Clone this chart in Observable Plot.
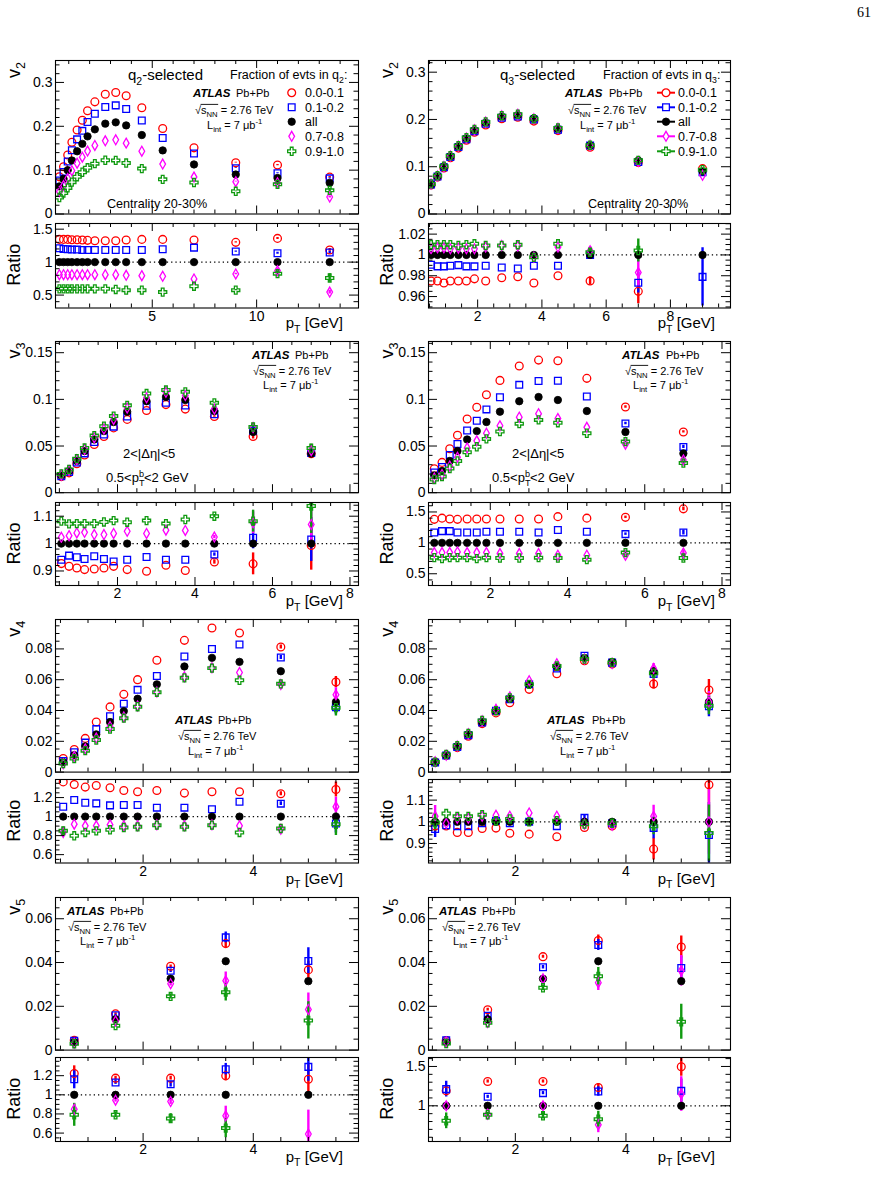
<!DOCTYPE html>
<html>
<head>
<meta charset="utf-8">
<script src="https://cdn.jsdelivr.net/npm/d3@7"></script>
<script src="https://cdn.jsdelivr.net/npm/@observablehq/plot@0.6"></script>
<style>
  body { margin: 0; background: #fff; }
  #page { position: relative; width: 879px; height: 1179px; overflow: hidden; background: #fff; }
  #page svg { position: absolute; }
</style>
</head>
<body>
<div id="page"></div>
<script>
// ---------------- data ----------------
// transverse-momentum bin centres (GeV)
const pt = [0.55, 0.75, 0.95, 1.15, 1.4, 1.65, 1.9, 2.25, 2.75, 3.25, 3.75, 4.5, 5.5, 7, 9, 11, 13.5];
const pt5 = [0.75, 1.5, 2.5, 3.5, 5];

// inclusive ("all") flow harmonics, centrality 20-30%
const v2All = [0.063, 0.08, 0.1, 0.122, 0.143, 0.16, 0.177, 0.193, 0.206, 0.209, 0.202, 0.18, 0.145, 0.113, 0.09, 0.082, 0.071];
const v3All = [0.0186, 0.0232, 0.034, 0.0446, 0.057, 0.066, 0.0757, 0.0868, 0.098, 0.1025, 0.0993, 0.0875, 0.065, 0.042];
const v4All = [0.0065, 0.011, 0.0167, 0.0245, 0.0325, 0.0396, 0.0476, 0.057, 0.0686, 0.0742, 0.0716, 0.0655, 0.0455];
const v5All = [0.0037, 0.0141, 0.0326, 0.0406, 0.0315];

// event-shape classes (fraction of events in q_n)
const classes = ["0.0-0.1", "0.1-0.2", "all", "0.7-0.8", "0.9-1.0"];

// ratios to "all": q2-selected, v2
const q2v2_r01 = [1.345, 1.345, 1.345, 1.34, 1.34, 1.335, 1.33, 1.325, 1.325, 1.325, 1.335, 1.345, 1.345, 1.335, 1.30, 1.36, 1.185];
const q2v2_r12 = [1.21, 1.2, 1.195, 1.19, 1.19, 1.185, 1.185, 1.185, 1.185, 1.185, 1.185, 1.185, 1.195, 1.22, 1.16, 1.135, 1.145];
const q2v2_r78 = [0.81, 0.81, 0.81, 0.81, 0.81, 0.81, 0.81, 0.81, 0.81, 0.81, 0.80, 0.795, 0.785, 0.745, 0.82, 0.87, 0.545];
const q2v2_r910 = [0.595, 0.595, 0.595, 0.595, 0.595, 0.595, 0.595, 0.595, 0.595, 0.585, 0.575, 0.575, 0.545, 0.635, 0.575, 0.825, 0.76];
const q2v2_e01 = [0, 0, 0, 0, 0, 0, 0, 0, 0, 0, 0, 0, 0, 0, 0.01, 0.015, 0.02];
const q2v2_e12 = [0, 0, 0, 0, 0, 0, 0, 0, 0, 0, 0, 0, 0, 0, 0.01, 0.015, 0.02];
const q2v2_e78 = [0, 0, 0, 0, 0, 0, 0, 0, 0, 0, 0, 0, 0, 0, 0.01, 0.04, 0.03];
const q2v2_e910 = [0, 0, 0, 0, 0, 0, 0, 0, 0, 0, 0, 0, 0, 0, 0.01, 0.04, 0.065];

// ratios to "all": q3-selected, v2
const q3v2_r01 = [0.975, 0.975, 0.973, 0.975, 0.975, 0.975, 0.977, 0.975, 0.978, 0.979, 0.973, 0.98, 0.975, 0.965, 1.066];
const q3v2_r12 = [0.9906, 0.989, 0.989, 0.9896, 0.9902, 0.989, 0.989, 0.9896, 0.988, 0.987, 0.9896, 0.9896, 1.0, 0.9733, 0.9789];
const q3v2_r78 = [1.0059, 1.0068, 1.0068, 1.0059, 1.0065, 1.0059, 1.0059, 1.0075, 1.009, 1.0085, 0.9977, 1.0075, 1.004, 0.983, 0.91];
const q3v2_r910 = [1.0098, 1.0098, 1.0098, 1.0098, 1.0091, 1.0098, 1.0107, 1.0091, 1.0091, 1.0098, 0.9977, 1.0107, 1.0026, 1.0042, 1.04];
const q3v2_e01 = [0, 0, 0, 0, 0, 0, 0, 0, 0, 0, 0, 0, 0.004, 0.012, 0];
const q3v2_e12 = [0, 0, 0, 0, 0, 0, 0, 0, 0, 0, 0, 0, 0.003, 0.01, 0.028];
const q3v2_e78 = [0, 0, 0, 0, 0, 0, 0, 0, 0, 0, 0, 0, 0.004, 0.014, 0];
const q3v2_e910 = [0, 0, 0, 0, 0, 0, 0, 0, 0, 0, 0, 0, 0.004, 0.011, 0];

// ratios to "all": q2-selected, v3
const q2v3_r01 = [0.927, 0.917, 0.911, 0.905, 0.907, 0.911, 0.917, 0.905, 0.899, 0.921, 0.902, 0.933, 0.926, 0.993];
const q2v3_r12 = [0.941, 0.956, 0.95, 0.944, 0.954, 0.944, 0.935, 0.941, 0.951, 0.941, 0.941, 0.96, 1.021, 1.015];
const q2v3_r78 = [1.023, 1.029, 1.039, 1.041, 1.033, 1.033, 1.037, 1.045, 1.037, 1.049, 1.048, 1.024, 1.076, 1.07];
const q2v3_r910 = [1.082, 1.072, 1.073, 1.073, 1.073, 1.079, 1.084, 1.078, 1.084, 1.073, 1.088, 1.10, 1.082, 1.137];
const q2v3_e01 = [0, 0, 0, 0, 0, 0, 0, 0, 0, 0, 0, 0.008, 0.04, 0.09];
const q2v3_e12 = [0, 0, 0, 0, 0, 0, 0, 0, 0, 0, 0, 0.006, 0.04, 0.08];
const q2v3_e78 = [0, 0, 0, 0, 0, 0, 0, 0, 0, 0, 0, 0.006, 0.04, 0.07];
const q2v3_e910 = [0, 0, 0, 0, 0, 0, 0, 0, 0, 0, 0, 0.006, 0.04, 0.1];

// ratios to "all": q3-selected, v3
const q3v3_r01 = [1.38, 1.40, 1.386, 1.38, 1.386, 1.386, 1.386, 1.386, 1.386, 1.386, 1.424, 1.40, 1.413, 1.55];
const q3v3_r12 = [1.168, 1.19, 1.19, 1.168, 1.168, 1.168, 1.179, 1.179, 1.179, 1.168, 1.207, 1.179, 1.141, 1.168];
const q3v3_r78 = [0.842, 0.842, 0.842, 0.853, 0.842, 0.842, 0.842, 0.826, 0.826, 0.826, 0.80, 0.80, 0.80, 0.837];
const q3v3_r910 = [0.761, 0.745, 0.761, 0.761, 0.761, 0.745, 0.761, 0.755, 0.755, 0.761, 0.755, 0.728, 0.842, 0.755];
const q3v3_e01 = [0, 0, 0, 0, 0, 0, 0, 0, 0, 0, 0, 0, 0.02, 0.03];
const q3v3_e12 = [0, 0, 0, 0, 0, 0, 0, 0, 0, 0, 0, 0, 0.02, 0.04];
const q3v3_e78 = [0, 0, 0, 0, 0, 0, 0, 0, 0, 0, 0, 0, 0.02, 0.05];
const q3v3_e910 = [0, 0, 0, 0, 0, 0, 0, 0, 0, 0, 0, 0, 0.02, 0.05];

// ratios to "all": q2-selected, v4
const q2v4_r01 = [1.365, 1.337, 1.31, 1.327, 1.303, 1.275, 1.261, 1.275, 1.247, 1.261, 1.261, 1.24, 1.285];
const q2v4_r12 = [1.104, 1.174, 1.146, 1.139, 1.118, 1.122, 1.122, 1.094, 1.094, 1.077, 1.157, 1.136, 0.927];
const q2v4_r78 = [0.833, 0.92, 0.903, 0.903, 0.913, 0.903, 0.903, 0.913, 0.903, 0.913, 0.903, 0.868, 1.104];
const q2v4_r910 = [0.85, 0.798, 0.833, 0.85, 0.861, 0.885, 0.892, 0.91, 0.892, 0.91, 0.833, 0.875, 0.92];
const q2v4_e01 = [0, 0, 0, 0, 0, 0, 0, 0, 0, 0, 0, 0.02, 0.08];
const q2v4_e12 = [0, 0, 0, 0, 0, 0, 0, 0, 0, 0, 0, 0.02, 0.1];
const q2v4_e78 = [0.04, 0, 0, 0, 0, 0, 0, 0, 0, 0, 0, 0.02, 0.1];
const q2v4_e910 = [0.04, 0, 0, 0, 0, 0, 0, 0, 0, 0, 0, 0.02, 0.12];

// ratios to "all": q3-selected, v4
const q3v4_r01 = [0.981, 0.981, 0.951, 0.951, 0.969, 0.971, 0.947, 0.943, 0.931, 0.974, 0.981, 0.874, 1.171];
const q3v4_r12 = [0.967, 0.984, 0.98, 0.98, 0.993, 1.005, 0.993, 1.0, 0.98, 1.018, 0.993, 0.972, 0.939];
const q3v4_r78 = [1.025, 0.993, 1.016, 1.016, 1.026, 1.03, 1.026, 1.041, 1.026, 0.989, 0.984, 1.026, 1.0];
const q3v4_r910 = [0.997, 1.038, 1.025, 1.025, 1.033, 1.005, 1.013, 1.0, 1.005, 0.989, 0.993, 0.98, 0.948];
const q3v4_e01 = [0, 0, 0, 0, 0, 0, 0, 0, 0, 0, 0.01, 0.05, 0.15];
const q3v4_e12 = [0.04, 0, 0, 0, 0, 0, 0, 0, 0, 0.012, 0.01, 0.05, 0.15];
const q3v4_e78 = [0.05, 0, 0, 0, 0, 0, 0, 0, 0, 0, 0.02, 0.05, 0.15];
const q3v4_e910 = [0.04, 0, 0, 0, 0, 0, 0, 0, 0, 0, 0.01, 0.04, 0.13];

// ratios to "all": q2-selected, v5
const q2v5_r01 = [1.223, 1.174, 1.174, 1.198, 1.163];
const q2v5_r12 = [1.163, 1.129, 1.111, 1.268, 1.292];
const q2v5_r78 = [0.85, 0.944, 0.93, 0.781, 0.59];
const q2v5_r910 = [0.791, 0.791, 0.753, 0.652, 0.43];
const q2v5_e01 = [0.08, 0.02, 0.02, 0.05, 0.15];
const q2v5_e12 = [0.1, 0.02, 0.03, 0.06, 0.15];
const q2v5_e78 = [0.05, 0.02, 0.03, 0.1, 0.25];
const q2v5_e910 = [0.12, 0.03, 0.05, 0.1, 0.08];
// v5 absolute uncertainties (q2-selected)
const q2v5_m01 = [0.0003, 0.0005, 0.0006, 0.002, 0.004];
const q2v5_m12 = [0.0004, 0.0005, 0.0008, 0.0025, 0.006];
const q2v5_m78 = [0.0002, 0.0005, 0.001, 0.004, 0.0075];
const q2v5_m910 = [0.0005, 0.0007, 0.0012, 0.004, 0.0085];

// ratios to "all": q3-selected, v5
const q3v5_r01 = [1.19, 1.309, 1.309, 1.233, 1.496];
const q3v5_r12 = [1.212, 1.114, 1.161, 1.182, 1.19];
const q3v5_r78 = [1.0, 0.894, 1.0, 0.758, 1.15];
const q3v5_r910 = [0.809, 0.886, 0.873, 0.83, 0.41];
const q3v5_e01 = [0.05, 0.02, 0.02, 0.05, 0.12];
const q3v5_e12 = [0.1, 0.02, 0.02, 0.06, 0.15];
const q3v5_e78 = [0.05, 0.02, 0.03, 0.1, 0.22];
const q3v5_e910 = [0.1, 0.03, 0.04, 0.1, 0.08];
// v5 absolute uncertainties (q3-selected)
const q3v5_m01 = [0.0003, 0.0006, 0.0007, 0.0025, 0.005];
const q3v5_m12 = [0.0004, 0.0005, 0.0008, 0.0025, 0.005];
const q3v5_m78 = [0.0002, 0.0005, 0.001, 0.0035, 0.007];
const q3v5_m910 = [0.0005, 0.0007, 0.0012, 0.004, 0.008];

// ---------------- styling ----------------
const FONT = '"Liberation Sans", Arial, Helvetica, sans-serif';
const STYLES = [
  {color: "#ff0000", symbol: "circle", r: 3.9, filled: false},
  {color: "#0000ff", symbol: "square", r: 3.8, filled: false},
  {color: "#000000", symbol: "circle", r: 3.7, filled: true},
  {color: "#ff00ff", symbol: "diamond", r: 3.0, filled: false},
  {color: "#109a10", symbol: "cross", r: 3.4, filled: false}
];

const page = document.getElementById("page");
const fmt = d => String(+d.toFixed(4));

function steps(lo, hi, step) {
  const out = [];
  const n0 = Math.ceil(lo / step - 1e-6), n1 = Math.floor(hi / step + 1e-6);
  for (let n = n0; n <= n1; n++) out.push(+(n * step).toFixed(6));
  return out;
}

// builds the five series (0.0-0.1, 0.1-0.2, all, 0.7-0.8, 0.9-1.0)
function buildSeries(xs, all, ratios, errs, isRatio, mainErrs) {
  return STYLES.map((st, k) => {
    const j = k < 2 ? k : k - 1;
    const r = k === 2 ? null : ratios[j];
    const e = k === 2 ? null : errs[j];
    const m = k === 2 || !mainErrs ? null : mainErrs[j];
    const rows = all.map((a, i) => {
      const rv = r ? r[i] : 1, ev = e ? e[i] : 0;
      if (isRatio) return {x: xs[i], y: rv, e: ev};
      return {x: xs[i], y: a * rv, e: m ? m[i] : a * ev};
    });
    return {...st, label: classes[k], rows};
  });
}

function panel(p) {
  const mL = 52, mR = 8, mT = 6, mB = p.xLabels ? 26 : 6;
  const fw = p.x1 - p.x0, fh = p.y1 - p.y0;
  const [xa, xb] = p.xDomain, [ya, yb] = p.yDomain;
  const kx = (xb - xa) / fw, ky = (yb - ya) / fh;
  const xMaj = steps(xa, xb, p.xStep);
  const xMin = steps(xa, xb, p.xStep / p.xSub).filter(v => !xMaj.some(m => Math.abs(m - v) < 1e-9));
  const yMaj = steps(ya, yb, p.yStep);
  const yMin = steps(ya, yb, p.yStep / p.ySub).filter(v => !yMaj.some(m => Math.abs(m - v) < 1e-9));

  const marks = [];
  if (p.ratio) marks.push(Plot.ruleY([1], {y: d => d, strokeDasharray: "1.3,3", strokeWidth: 1.2}));
  for (const s of p.series) {
    const withErr = s.rows.filter(d => d.e > 0);
    if (withErr.length) marks.push(Plot.ruleX(withErr, {x: "x", y1: d => d.y - d.e, y2: d => d.y + d.e, stroke: s.color, strokeWidth: 2.4, clip: true}));
  }
  for (const s of p.series) {
    marks.push(Plot.dot(s.rows, {x: "x", y: "y", symbol: s.symbol, r: s.r, stroke: s.color,
      fill: s.filled ? s.color : "none", strokeWidth: s.filled ? 0.8 : 1.3, clip: true}));
  }
  const xt = (vals, len) => [
    Plot.ruleX(vals, {x: d => d, y1: () => ya, y2: () => ya + len * ky, strokeWidth: 1}),
    Plot.ruleX(vals, {x: d => d, y1: () => yb, y2: () => yb - len * ky, strokeWidth: 1})
  ];
  const yt = (vals, len) => [
    Plot.ruleY(vals, {y: d => d, x1: () => xa, x2: () => xa + len * kx, strokeWidth: 1}),
    Plot.ruleY(vals, {y: d => d, x1: () => xb, x2: () => xb - len * kx, strokeWidth: 1})
  ];
  marks.push(...xt(xMaj, 8), ...xt(xMin, 4), ...yt(yMaj, 9), ...yt(yMin, 4.5));
  marks.push(Plot.frame({stroke: "#000", strokeWidth: 1.1}));
  marks.push(Plot.axisY({ticks: yMaj, tickSize: 0, tickPadding: 3, tickFormat: fmt, fontSize: 14, label: null}));
  if (p.xLabels) marks.push(Plot.axisX({ticks: xMaj, tickSize: 0, tickPadding: 3, tickFormat: fmt, fontSize: 14, label: null}));

  const svg = Plot.plot({
    width: fw + mL + mR, height: fh + mT + mB,
    marginLeft: mL, marginRight: mR, marginTop: mT, marginBottom: mB,
    x: {type: "linear", domain: p.xDomain, axis: null, label: null},
    y: {type: "linear", domain: p.yDomain, axis: null, label: null},
    style: {fontFamily: FONT, fontSize: "14px", color: "#000", background: "none", overflow: "visible"},
    marks
  });
  svg.style.position = "absolute";
  svg.style.left = (p.x0 - mL) + "px";
  svg.style.top = (p.y0 - mT) + "px";
  page.appendChild(svg);
}

// ---------------- layout ----------------
const L = {x0: 55, x1: 358}, R = {x0: 428, x1: 730};
const rows = [
  {main: [60, 213.5], ratio: [222.5, 307]},
  {main: [340.5, 491.7], ratio: [502, 585]},
  {main: [618.7, 771.3], ratio: [779, 862.5]},
  {main: [896.7, 1049.3], ratio: [1056.7, 1140.7]}
];

const panels = [
  // v2
  {col: L, row: 0, xs: pt, all: v2All, xDomain: [0.365, 14.88], xStep: 5, xSub: 5,
   mainY: [0, 0.35], mainStep: 0.1, mainSub: 5, ratioY: [0.304, 1.586], ratioStep: 0.5, ratioSub: 5,
   r: [q2v2_r01, q2v2_r12, q2v2_r78, q2v2_r910], e: [q2v2_e01, q2v2_e12, q2v2_e78, q2v2_e910]},
  {col: R, row: 0, xs: pt, all: v2All.slice(0, 15), xDomain: [0.47, 9.87], xStep: 2, xSub: 4,
   mainY: [0, 0.3247], mainStep: 0.1, mainSub: 5, ratioY: [0.949, 1.0302], ratioStep: 0.02, ratioSub: 4,
   r: [q3v2_r01, q3v2_r12, q3v2_r78, q3v2_r910], e: [q3v2_e01, q3v2_e12, q3v2_e78, q3v2_e910]},
  // v3
  {col: L, row: 1, xs: pt, all: v3All, xDomain: [0.4, 8.22], xStep: 2, xSub: 4,
   mainY: [0, 0.162], mainStep: 0.05, mainSub: 5, ratioY: [0.847, 1.15], ratioStep: 0.1, ratioSub: 5,
   r: [q2v3_r01, q2v3_r12, q2v3_r78, q2v3_r910], e: [q2v3_e01, q2v3_e12, q2v3_e78, q2v3_e910]},
  {col: R, row: 1, xs: pt, all: v3All, xDomain: [0.4, 8.22], xStep: 2, xSub: 4,
   mainY: [0, 0.162], mainStep: 0.05, mainSub: 5, ratioY: [0.31, 1.653], ratioStep: 0.5, ratioSub: 5,
   r: [q3v3_r01, q3v3_r12, q3v3_r78, q3v3_r910], e: [q3v3_e01, q3v3_e12, q3v3_e78, q3v3_e910]},
  // v4
  {col: L, row: 2, xs: pt, all: v4All, xDomain: [0.41, 5.91], xStep: 2, xSub: 4,
   mainY: [0, 0.0991], mainStep: 0.02, mainSub: 4, ratioY: [0.512, 1.39], ratioStep: 0.2, ratioSub: 4,
   r: [q2v4_r01, q2v4_r12, q2v4_r78, q2v4_r910], e: [q2v4_e01, q2v4_e12, q2v4_e78, q2v4_e910]},
  {col: R, row: 2, xs: pt, all: v4All, xDomain: [0.43, 5.89], xStep: 2, xSub: 4,
   mainY: [0, 0.0991], mainStep: 0.02, mainSub: 4, ratioY: [0.81, 1.195], ratioStep: 0.1, ratioSub: 5,
   r: [q3v4_r01, q3v4_r12, q3v4_r78, q3v4_r910], e: [q3v4_e01, q3v4_e12, q3v4_e78, q3v4_e910]},
  // v5
  {col: L, row: 3, xs: pt5, all: v5All, xDomain: [0.41, 5.91], xStep: 2, xSub: 4,
   mainY: [0, 0.0697], mainStep: 0.02, mainSub: 4, ratioY: [0.512, 1.39], ratioStep: 0.2, ratioSub: 4,
   r: [q2v5_r01, q2v5_r12, q2v5_r78, q2v5_r910], e: [q2v5_e01, q2v5_e12, q2v5_e78, q2v5_e910],
   m: [q2v5_m01, q2v5_m12, q2v5_m78, q2v5_m910]},
  {col: R, row: 3, xs: pt5, all: v5All, xDomain: [0.43, 5.89], xStep: 2, xSub: 4,
   mainY: [0, 0.0697], mainStep: 0.02, mainSub: 4, ratioY: [0.546, 1.614], ratioStep: 0.5, ratioSub: 5,
   r: [q3v5_r01, q3v5_r12, q3v5_r78, q3v5_r910], e: [q3v5_e01, q3v5_e12, q3v5_e78, q3v5_e910],
   m: [q3v5_m01, q3v5_m12, q3v5_m78, q3v5_m910]}
];

for (const p of panels) {
  const g = rows[p.row];
  panel({x0: p.col.x0, x1: p.col.x1, y0: g.main[0], y1: g.main[1], xDomain: p.xDomain, xStep: p.xStep, xSub: p.xSub,
    yDomain: p.mainY, yStep: p.mainStep, ySub: p.mainSub, xLabels: false, ratio: false,
    series: buildSeries(p.xs, p.all, p.r, p.e, false, p.m)});
  panel({x0: p.col.x0, x1: p.col.x1, y0: g.ratio[0], y1: g.ratio[1], xDomain: p.xDomain, xStep: p.xStep, xSub: p.xSub,
    yDomain: p.ratioY, yStep: p.ratioStep, ySub: p.ratioSub, xLabels: true, ratio: true,
    series: buildSeries(p.xs, p.all, p.r, p.e, true)});
}

// ---------------- annotations ----------------
const ov = d3.select(page).append("svg")
  .attr("width", 879).attr("height", 1179)
  .style("left", "0px").style("top", "0px")
  .attr("font-family", FONT).attr("fill", "#000");

function rich(x, y, parts, size, opts = {}) {
  const t = ov.append("text").attr("x", x).attr("y", y).attr("font-size", size)
    .attr("text-anchor", opts.anchor || "start");
  if (opts.rotate) t.attr("transform", `rotate(-90,${x},${y})`);
  if (opts.family) t.attr("font-family", opts.family);
  let cur = 0;
  for (const part of parts) {
    const seg = typeof part === "string" ? {t: part} : part;
    const off = seg.sub ? 0.3 * size : seg.sup ? -0.42 * size : 0;
    const ts = t.append("tspan").text(seg.t).attr("dy", off - cur);
    cur = off;
    if (seg.dx) ts.attr("dx", seg.dx);
    if (seg.sub || seg.sup) ts.attr("font-size", size * 0.7);
    if (seg.b) ts.attr("font-weight", "bold");
    if (seg.i) ts.attr("font-style", "italic");
  }
  return t;
}

function atlasBlock(xA, xPb, xS, xL, y, dy1, dy2) {
  rich(xA, y, [{t: "ATLAS", b: true, i: true}], 11.5);
  rich(xPb, y, ["Pb+Pb"], 11);
  const t = rich(xS, y + dy1, ["\u221A", "s", {t: "NN", sub: true}, " = 2.76 TeV"], 11);
  const n = t.node();
  const xa = n.getStartPositionOfChar(1).x, xb = n.getEndPositionOfChar(3).x;
  ov.append("line").attr("x1", xa - 0.5).attr("x2", xb + 0.5)
    .attr("y1", y + dy1 - 9.6).attr("y2", y + dy1 - 9.6).attr("stroke", "#000").attr("stroke-width", 0.9);
  rich(xL, y + dy2, ["L", {t: "int", sub: true}, " = 7 \u03BCb", {t: "-1", sup: true}], 11);
}

// page number
rich(871, 17, ["61"], 14, {anchor: "end", family: '"Liberation Serif", "DejaVu Serif", serif'});

// axis titles
const yTitles = [["v", "2"], ["v", "3"], ["v", "4"], ["v", "5"]];
rows.forEach((g, i) => {
  for (const bx of [20, 393]) {
    rich(bx, g.main[0] + 2, [yTitles[i][0], {t: yTitles[i][1], sub: true}], 18, {rotate: true, anchor: "end"});
    rich(bx, (g.ratio[0] + g.ratio[1]) / 2, ["Ratio"], 18, {rotate: true, anchor: "middle"});
  }
  for (const ex of [L.x1 - 15, R.x1 - 15]) {
    rich(ex, g.ratio[1] + 21, ["p", {t: "T", sub: true}, " [GeV]"], 15, {anchor: "end"});
  }
});

// row 1 headers
rich(128, 80, ["q", {t: "2", sub: true}, "-selected"], 15);
rich(500, 80, ["q", {t: "3", sub: true}, "-selected"], 15);
rich(230, 79, ["Fraction of evts in q", {t: "2", sub: true}, ":"], 12.5);
rich(603, 79, ["Fraction of evts in q", {t: "3", sub: true}, ":"], 12.5);
rich(107, 208, ["Centrality 20-30%"], 12.6);
rich(588, 208, ["Centrality 20-30%"], 12.6);

// legends
const symType = {circle: d3.symbolCircle, square: d3.symbolSquare, diamond: d3.symbolDiamond, cross: d3.symbolCross};
const legY = [92.7, 107.3, 121.7, 136.3, 151.3];
STYLES.forEach((st, k) => {
  const y = legY[k];
  const path = d3.symbol().type(symType[st.symbol]).size(Math.PI * st.r * st.r)();
  // left: marker only
  ov.append("path").attr("d", path).attr("transform", `translate(291.7,${y})`)
    .attr("fill", st.filled ? st.color : "none").attr("stroke", st.color).attr("stroke-width", st.filled ? 0.8 : 1.3);
  rich(305, y + 4.5, [classes[k]], 12.5);
  // right: marker with line
  ov.append("line").attr("x1", 657).attr("x2", 675).attr("y1", y).attr("y2", y)
    .attr("stroke", st.color).attr("stroke-width", 2);
  ov.append("path").attr("d", path).attr("transform", `translate(666,${y})`)
    .attr("fill", st.filled ? st.color : "#fff").attr("stroke", st.color).attr("stroke-width", st.filled ? 0.8 : 1.3);
  rich(678, y + 4.5, [classes[k]], 12.5);
});

// ATLAS labels
atlasBlock(193, 236, 195, 207, 97, 17, 32);
atlasBlock(565, 609, 568, 580, 97, 17, 32);
atlasBlock(252, 295, 253, 263, 359, 16, 30);
atlasBlock(622, 666, 625, 633, 359, 16, 30);
atlasBlock(175, 218, 178, 188, 724, 16, 31);
atlasBlock(547, 592, 550, 560, 724, 16, 31);
atlasBlock(67, 110, 68, 80, 915, 16, 30);
atlasBlock(439, 482, 442, 453, 915, 16, 30);

// v3 selection labels
for (const [xa, xb] of [[123, 106], [512, 492]]) {
  rich(xa, 458, ["2<|\u0394\u03B7|<5"], 13);
  rich(xb, 482, ["0.5<p", {t: "T", sub: true}, {t: "b", sup: true, dx: -5.5}, "<2 GeV"], 13);
}
</script>
</body>
</html>
